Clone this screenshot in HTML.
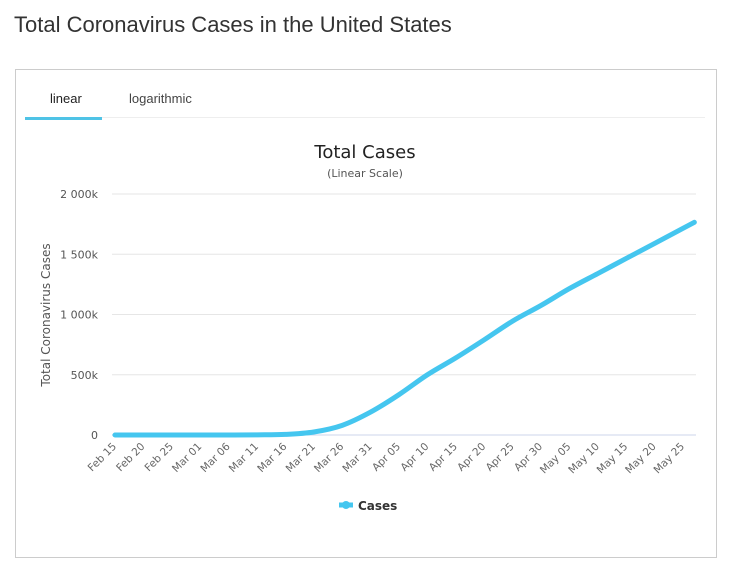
<!DOCTYPE html>
<html><head><meta charset="utf-8"><style>
body{margin:0;width:730px;height:576px;background:#fff;font-family:"Liberation Sans",sans-serif;position:relative;overflow:hidden}
</style></head><body>
<div style="position:absolute;left:14px;top:12px;font-size:22px;color:#333">Total Coronavirus Cases in the United States</div>
<div style="position:absolute;left:15px;top:69px;width:700px;height:487px;border:1px solid #ccc"></div>
<div style="position:absolute;left:50px;top:91px;font-size:13px;color:#222">linear</div>
<div style="position:absolute;left:129px;top:91px;font-size:13px;color:#444">logarithmic</div>
<div style="position:absolute;left:25px;top:117px;width:680px;height:1px;background:#eee"></div>
<div style="position:absolute;left:25px;top:117px;width:77px;height:3px;background:#4fc3e6"></div>
<svg id="chart" width="730" height="576" style="position:absolute;left:0;top:0"></svg>
<script>
const dates=["Feb 15","Feb 20","Feb 25","Mar 01","Mar 06","Mar 11","Mar 16","Mar 21","Mar 26","Mar 31","Apr 05","Apr 10","Apr 15","Apr 20","Apr 25","Apr 30","May 05","May 10","May 15","May 20","May 25","May 27"];
const dayOffsets=[0,5,10,15,20,25,30,35,40,45,50,55,60,65,70,75,80,85,90,95,100,102];
const cases=[15,15,15,30,300,1300,5000,25000,80000,190000,335000,500000,640000,790000,945000,1075000,1215000,1340000,1465000,1590000,1715000,1765000];
const yTicks=[0,500000,1000000,1500000,2000000];
const yTickLabels=["0","500k","1 000k","1 500k","2 000k"];
const tickDates=dates.slice(0,21);
const ns="http://www.w3.org/2000/svg";
const svg=document.getElementById('chart');
const X=d=>115+d*5.68;
const Y=v=>435-v/2000000*241;
function mk(t,a,txt){const e=document.createElementNS(ns,t);for(const k in a)e.setAttribute(k,a[k]);if(txt!==undefined)e.textContent=txt;svg.appendChild(e);return e;}
let e;
e=mk('text',{x:365,y:158,'text-anchor':'middle','font-size':18,fill:'#222','font-family':'DejaVu Sans, sans-serif'},'Total Cases');


e=mk('text',{x:365,y:177,'text-anchor':'middle','font-size':11,fill:'#555','font-family':'DejaVu Sans, sans-serif'},'(Linear Scale)');


yTicks.forEach((v,i)=>{
 e=mk('line',{x1:112,x2:696,y1:Y(v),y2:Y(v),stroke:i==0?'#ccd6eb':'#e6e6e6','stroke-width':1});
 
 
 e=mk('text',{x:98,y:Y(v)+4,'text-anchor':'end','font-size':11,fill:'#555','font-family':'DejaVu Sans, sans-serif'},yTickLabels[i]);
 
 
});
e=mk('text',{x:0,y:0,transform:'translate(50,315) rotate(-90)','text-anchor':'middle','font-size':12,fill:'#555','font-family':'DejaVu Sans, sans-serif'},'Total Coronavirus Cases');


tickDates.forEach((d,i)=>{
 const x=X(dayOffsets[i]);
 e=mk('text',{x:0,y:0,transform:`translate(${x+2},${447}) rotate(-45)`,'text-anchor':'end','font-size':10.5,fill:'#666','font-family':'DejaVu Sans, sans-serif'},d);
 
 
});
const pts=dayOffsets.map((d,i)=>[X(d),Y(cases[i])]);
let p='M'+pts[0][0]+','+pts[0][1];
for(let i=0;i<pts.length-1;i++){
 const p0=pts[Math.max(0,i-1)],p1=pts[i],p2=pts[i+1],p3=pts[Math.min(pts.length-1,i+2)];
 const c1=[p1[0]+(p2[0]-p0[0])/6,p1[1]+(p2[1]-p0[1])/6],c2=[p2[0]-(p3[0]-p1[0])/6,p2[1]-(p3[1]-p1[1])/6];
 p+=`C${c1[0]},${c1[1]} ${c2[0]},${c2[1]} ${p2[0]},${p2[1]}`;
}
e=mk('path',{d:p,fill:'none',stroke:'#45c6ef','stroke-width':5,'stroke-linecap':'round','stroke-linejoin':'round'});


e=mk('line',{x1:339,x2:353,y1:505,y2:505,stroke:'#45c6ef','stroke-width':5});


e=mk('circle',{cx:346,cy:505,r:4,fill:'#45c6ef'});


e=mk('text',{x:358,y:510,'font-size':12,'font-weight':'bold',fill:'#333','font-family':'DejaVu Sans, sans-serif'},'Cases');


</script>
</body></html>
